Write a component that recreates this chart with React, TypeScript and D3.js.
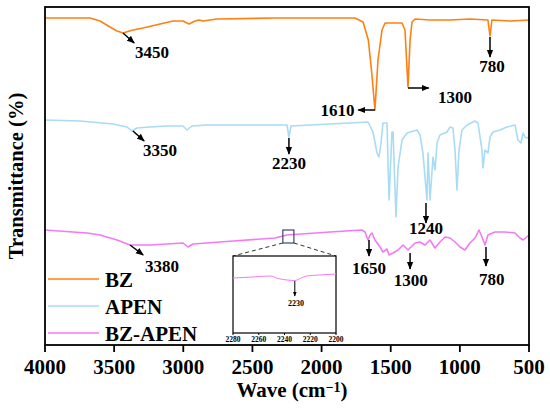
import { useEffect, useRef } from 'react';
import * as d3 from 'd3';

// FTIR spectra (wavenumber in cm-1, transmittance in a.u.)
const bzWave = [4000, 3675, 3602, 3530, 3479, 3436, 3364, 3291, 3168, 3074, 3002, 2959, 2915, 2886, 2857, 2756, 2337, 1758, 1700, 1662, 1637, 1614, 1592, 1563, 1541, 1505, 1418, 1397, 1375, 1360, 1346, 1324, 1216, 1071, 926, 797, 782, 768, 637, 500];
const bzT = [327, 327, 324, 318, 314, 312, 315, 317, 321, 324, 324, 321, 324, 325, 324, 326, 327, 327, 323, 305, 272, 235, 285, 315, 322, 322, 322, 315, 258, 305, 323, 326, 325, 325, 326, 325, 309, 325, 324, 325];

const apenWave = [4000, 3747, 3508, 3407, 3371, 3335, 3241, 3118, 3002, 2973, 2937, 2829, 2337, 2250, 2236, 2221, 1939, 1664, 1628, 1599, 1585, 1570, 1556, 1527, 1512, 1491, 1483, 1462, 1447, 1418, 1382, 1310, 1288, 1267, 1238, 1230, 1216, 1194, 1180, 1165, 1144, 1093, 1071, 1050, 1035, 1021, 1006, 985, 948, 891, 869, 840, 833, 818, 797, 782, 760, 710, 659, 601, 580, 558, 543, 529, 514, 500];
const apenT = [225, 224, 221, 218, 214, 217, 218, 219, 219, 215, 219, 220, 220, 220, 208, 219, 221, 223, 213, 192, 188, 202, 222, 222, 145, 213, 213, 128, 178, 205, 212, 215, 210, 192, 145, 192, 145, 188, 175, 202, 210, 213, 218, 217, 195, 155, 195, 215, 220, 224, 222, 195, 177, 195, 192, 208, 213, 215, 218, 220, 205, 202, 212, 208, 207, 208];

const blendWave = [4000, 3696, 3602, 3479, 3385, 3241, 3118, 3002, 2966, 2930, 2829, 2640, 2337, 2250, 1939, 1708, 1686, 1664, 1650, 1635, 1614, 1577, 1556, 1527, 1512, 1483, 1447, 1411, 1375, 1324, 1288, 1252, 1216, 1180, 1144, 1107, 1071, 1035, 999, 963, 927, 890, 862, 840, 818, 797, 746, 674, 601, 565, 543, 507, 500];
const blendT = [115, 112, 110, 105, 100, 100, 101, 102, 98, 101, 102, 104, 107, 110, 113, 115, 113, 105, 110, 112, 105, 98, 93, 96, 90, 92, 95, 100, 95, 102, 103, 100, 105, 97, 103, 108, 107, 103, 98, 95, 102, 107, 115, 108, 100, 110, 113, 113, 112, 107, 105, 109, 109];

// inset: BZ-APEN around the nitrile band
const insetWave = [2280, 2265, 2251, 2245, 2238, 2232, 2227, 2223, 2213, 2200];
const insetT = [55, 56, 57, 54.5, 53, 52.5, 55, 57, 58, 59];

const xTicks = [4000, 3500, 3000, 2500, 2000, 1500, 1000, 500];
const insetTicks = [2280, 2260, 2240, 2220, 2200];

const seriesNames = ['BZ', 'APEN', 'BZ-APEN'];
const seriesColors = ['#ff8012', '#a8dbf5', '#f47af4'];

// peak labels: text, arrow start (w0, v0), arrow end (w1, v1), label anchor (lw, lv)
type Peak = { text: string; w0: number; v0: number; w1: number; v1: number; lw: number; lv: number; anchor: string };
const peaks: Peak[] = [
  { text: '3450', w0: 3436, v0: 312, w1: 3355, v1: 302, lw: 3349, lv: 287, anchor: 'start' },
  { text: '1610', w0: 1614, v0: 235, w1: 1735, v1: 235, lw: 1762, lv: 229, anchor: 'end' },
  { text: '1300', w0: 1375, v0: 257, w1: 1225, v1: 257, lw: 1158, lv: 242, anchor: 'start' },
  { text: '780', w0: 782, v0: 308, w1: 782, v1: 288, lw: 768, lv: 273, anchor: 'middle' },
  { text: '3350', w0: 3364, v0: 214, w1: 3283, v1: 204, lw: 3291, lv: 189, anchor: 'start' },
  { text: '2230', w0: 2236, v0: 207, w1: 2236, v1: 191, lw: 2236, lv: 176, anchor: 'middle' },
  { text: '1240', w0: 1245, v0: 142, w1: 1245, v1: 122, lw: 1245, lv: 111, anchor: 'middle' },
  { text: '3380', w0: 3385, v0: 100, w1: 3290, v1: 90, lw: 3277, lv: 73, anchor: 'start' },
  { text: '1650', w0: 1657, v0: 105, w1: 1657, v1: 89, lw: 1657, lv: 71, anchor: 'middle' },
  { text: '1300', w0: 1360, v0: 92, w1: 1360, v1: 76, lw: 1355, lv: 59, anchor: 'middle' },
  { text: '780', w0: 811, v0: 98, w1: 811, v1: 79, lw: 770, lv: 60, anchor: 'middle' },
];

const FONT = 'Liberation Serif';

export default function App() {
  const svgRef = useRef<SVGSVGElement>(null);

  useEffect(() => {
    if (!svgRef.current) return;
    const svg = d3.select(svgRef.current);
    svg.selectAll('*').remove();

    const width = 550;
    const height = 409;
    const left = 45, right = 529, top = 7, bottom = 345;

    const x = d3.scaleLinear().domain([4000, 500]).range([left, right]);
    const y = d3.scaleLinear().domain([0, 338]).range([bottom, top]);

    svg.append('rect').attr('width', width).attr('height', height).attr('fill', 'white');

    const defs = svg.append('defs');
    const mk = (id: string, size: number) =>
      defs
        .append('marker')
        .attr('id', id)
        .attr('viewBox', '0 0 10 10')
        .attr('refX', 9)
        .attr('refY', 5)
        .attr('markerWidth', size)
        .attr('markerHeight', size)
        .attr('markerUnits', 'userSpaceOnUse')
        .attr('orient', 'auto')
        .append('path')
        .attr('d', 'M0,1 L10,5 L0,9 Z')
        .attr('fill', '#000');
    mk('arrow', 8);
    mk('arrowSmall', 5);

    const line = d3
      .line<[number, number]>()
      .x((d) => x(d[0]))
      .y((d) => y(d[1]));

    const series = [
      d3.zip(bzWave, bzT),
      d3.zip(apenWave, apenT),
      d3.zip(blendWave, blendT),
    ] as [number, number][][];

    const plot = svg.append('g');
    series.forEach((s, i) => {
      plot
        .append('path')
        .attr('d', line(s))
        .attr('fill', 'none')
        .attr('stroke', seriesColors[i])
        .attr('stroke-width', 1.6)
        .attr('stroke-linejoin', 'round');
    });

    // frame
    svg
      .append('rect')
      .attr('x', left)
      .attr('y', top)
      .attr('width', right - left)
      .attr('height', bottom - top)
      .attr('fill', 'none')
      .attr('stroke', '#000')
      .attr('stroke-width', 1.8);

    const txt = (sel: any, size: number) =>
      sel.attr('font-family', FONT).attr('font-weight', 'bold').attr('font-size', size);

    // x axis
    const xAxis = svg.append('g');
    xTicks.forEach((t) => {
      xAxis
        .append('line')
        .attr('x1', x(t))
        .attr('x2', x(t))
        .attr('y1', bottom)
        .attr('y2', bottom + 7)
        .attr('stroke', '#000')
        .attr('stroke-width', 1.8);
      txt(xAxis.append('text'), 21)
        .attr('x', x(t))
        .attr('y', bottom + 29)
        .attr('text-anchor', 'middle')
        .text(t);
    });

    const xTitle = txt(svg.append('text'), 21)
      .attr('x', (left + right) / 2 + 5)
      .attr('y', 397)
      .attr('text-anchor', 'middle');
    xTitle.append('tspan').text('Wave (cm');
    xTitle.append('tspan').attr('dy', -5).attr('font-size', 14).text('−1');
    xTitle.append('tspan').attr('dy', 5).text(')');

    txt(svg.append('text'), 20.5)
      .attr('transform', `translate(23,${(top + bottom) / 2}) rotate(-90)`)
      .attr('text-anchor', 'middle')
      .text('Transmittance (%)');

    // peak annotations
    const ann = svg.append('g');
    peaks.forEach((p) => {
      ann
        .append('line')
        .attr('x1', x(p.w0))
        .attr('y1', y(p.v0))
        .attr('x2', x(p.w1))
        .attr('y2', y(p.v1))
        .attr('stroke', '#000')
        .attr('stroke-width', 1.5)
        .attr('marker-end', 'url(#arrow)');
      txt(ann.append('text'), 17)
        .attr('x', x(p.lw))
        .attr('y', y(p.lv))
        .attr('text-anchor', p.anchor)
        .text(p.text);
    });

    // legend
    const legend = svg.append('g');
    seriesNames.forEach((name, i) => {
      const ly = 279 + i * 27;
      legend
        .append('line')
        .attr('x1', 48)
        .attr('x2', 99)
        .attr('y1', ly)
        .attr('y2', ly)
        .attr('stroke', seriesColors[i])
        .attr('stroke-width', 1.6);
      txt(legend.append('text'), 21)
        .attr('x', 105)
        .attr('y', ly + 8)
        .text(name);
    });

    // zoom box on the main trace
    const boxTop = y(115);
    const boxBottom = y(102);
    svg
      .append('rect')
      .attr('x', x(2280))
      .attr('y', boxTop)
      .attr('width', x(2200) - x(2280))
      .attr('height', boxBottom - boxTop)
      .attr('fill', 'none')
      .attr('stroke', '#23395d')
      .attr('stroke-width', 1.1);

    // inset
    const iL = 233, iR = 336, iT = 256, iB = 333;
    const ix = d3.scaleLinear().domain([2280, 2200]).range([iL, iR]);
    const iy = d3.scaleLinear().domain([0, 77]).range([iB, iT]);

    [
      [x(2280), iL],
      [x(2200), iR],
    ].forEach(([a, b]) => {
      svg
        .append('line')
        .attr('x1', a)
        .attr('y1', boxBottom)
        .attr('x2', b)
        .attr('y2', iT)
        .attr('stroke', '#333')
        .attr('stroke-width', 1)
        .attr('stroke-dasharray', '4,3');
    });

    const inset = svg.append('g');
    inset
      .append('rect')
      .attr('x', iL)
      .attr('y', iT)
      .attr('width', iR - iL)
      .attr('height', iB - iT)
      .attr('fill', 'white')
      .attr('stroke', '#000')
      .attr('stroke-width', 1.2);

    const iline = d3
      .line<[number, number]>()
      .x((d) => ix(d[0]))
      .y((d) => iy(d[1]))
      .curve(d3.curveMonotoneX);
    inset
      .append('path')
      .attr('d', iline(d3.zip(insetWave, insetT) as [number, number][]))
      .attr('fill', 'none')
      .attr('stroke', seriesColors[2])
      .attr('stroke-width', 1);

    insetTicks.forEach((t) => {
      inset
        .append('line')
        .attr('x1', ix(t))
        .attr('x2', ix(t))
        .attr('y1', iB)
        .attr('y2', iB + 2)
        .attr('stroke', '#000')
        .attr('stroke-width', 1);
      txt(inset.append('text'), 7.5)
        .attr('x', ix(t))
        .attr('y', iB + 9)
        .attr('text-anchor', 'middle')
        .text(t);
    });

    inset
      .append('line')
      .attr('x1', ix(2232))
      .attr('x2', ix(2232))
      .attr('y1', iy(52))
      .attr('y2', iy(37))
      .attr('stroke', '#000')
      .attr('stroke-width', 1)
      .attr('marker-end', 'url(#arrowSmall)');
    txt(inset.append('text'), 8)
      .attr('x', ix(2231))
      .attr('y', iy(27))
      .attr('text-anchor', 'middle')
      .text('2230');
  }, []);

  return (
    <svg
      ref={svgRef}
      width={550}
      height={409}
      style={{ position: 'absolute', left: 0, top: 0 }}
    />
  );
}
